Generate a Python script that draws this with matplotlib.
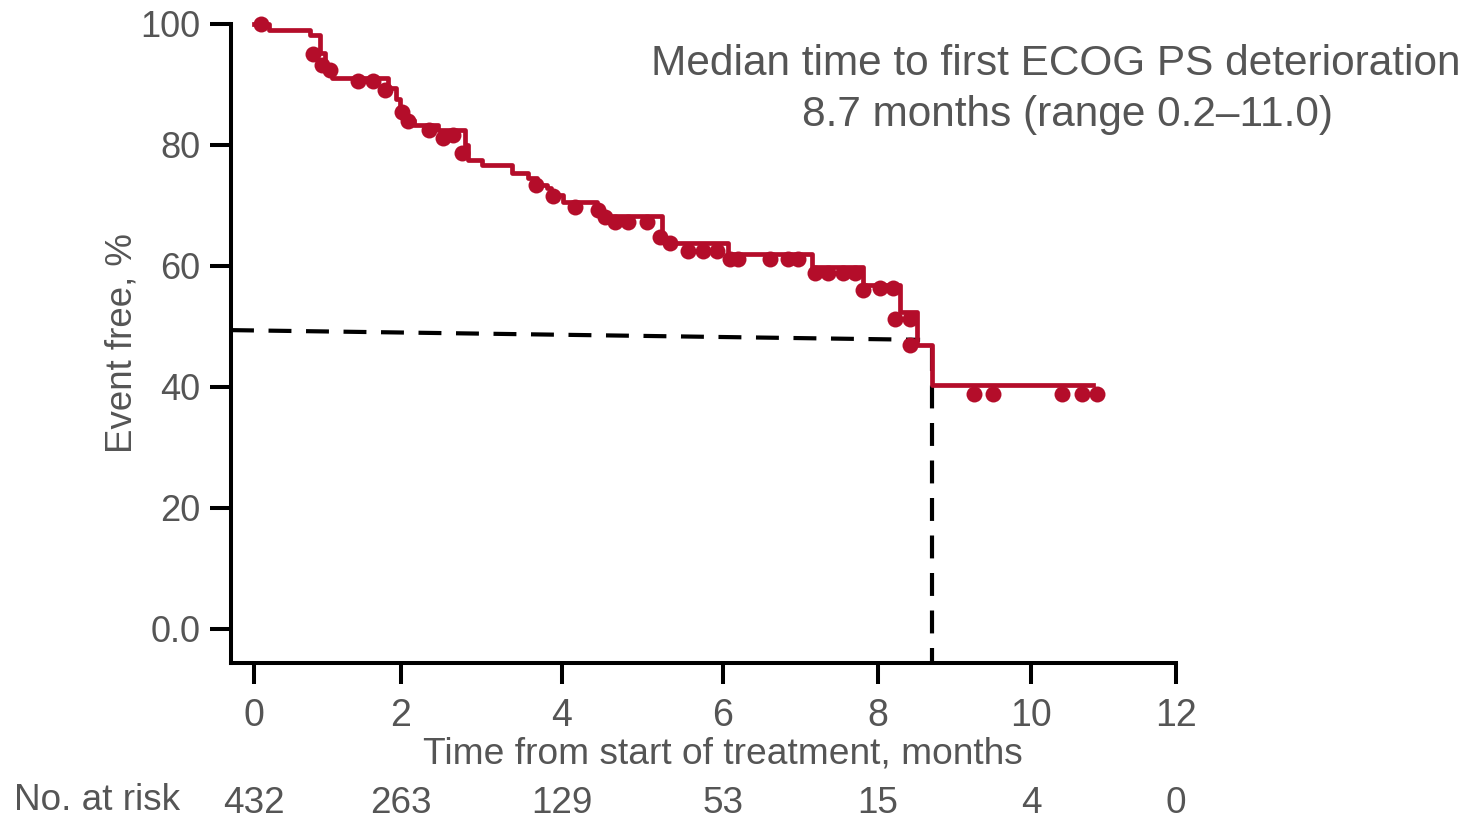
import numpy as np
import matplotlib.pyplot as plt
import matplotlib.transforms as mtransforms

plt.rcParams['font.family'] = ['Liberation Sans', 'DejaVu Sans']

# Kaplan-Meier step curve: (time in months, % event free after the step)
step_t = [0, 0.20, 0.76, 0.90, 0.97, 1.06, 1.82, 1.93, 1.99, 2.06, 2.16, 2.46,
          2.80, 2.83, 3.01, 3.38, 3.58, 3.69, 3.81, 3.86, 4.01, 4.44, 4.51,
          5.24, 5.32, 6.07, 7.15, 7.81, 8.29, 8.51, 8.70, 10.86]
step_s = [100, 99.0, 98.2, 95.2, 93.1, 91.1, 89.4, 87.6, 85.8, 84.1, 83.3, 82.5,
          80.0, 77.5, 76.7, 75.4, 74.5, 73.4, 72.9, 71.7, 70.6, 69.3, 68.3,
          64.3, 63.8, 62.0, 59.9, 56.9, 52.4, 46.9, 40.3, 40.3]

# censored observations
cens_t = [0.10, 0.80, 0.93, 1.03, 1.42, 1.62, 1.78, 2.01, 2.09, 2.35, 2.52,
          2.65, 2.76, 3.68, 3.89, 4.16, 4.45, 4.53, 4.66, 4.82, 5.05, 5.22,
          5.34, 5.57, 5.75, 5.92, 6.09, 6.19, 6.61, 6.84, 6.97, 7.19, 7.36,
          7.55, 7.70, 7.81, 8.03, 8.20, 8.22, 8.42, 8.42, 9.26, 9.50, 10.43,
          10.70, 10.91]
cens_s = [100.0, 95.0, 93.2, 92.4, 90.5, 90.5, 89.1, 85.5, 83.9, 82.5, 81.2,
          81.7, 78.7, 73.4, 71.5, 69.8, 69.3, 68.1, 67.3, 67.3, 67.3, 64.8,
          63.8, 62.4, 62.4, 62.4, 61.2, 61.2, 61.2, 61.2, 61.2, 58.8, 58.8,
          58.8, 58.8, 56.0, 56.3, 56.3, 51.2, 51.2, 46.9, 38.8, 38.8, 38.8,
          38.8, 38.8]

median_t = 8.7
median_guide_s = [49.4, 47.8]

risk_t = [0, 2, 4, 6, 8, 10, 12]
risk_n = [432, 263, 129, 53, 15, 4, 0]

yticks = [0, 20, 40, 60, 80, 100]
ytick_labels = ['0.0', '20', '40', '60', '80', '100']

red = '#B40D2A'
grey = '#555555'

# the time axis is piecewise linear: each 2-month interval has its own width
seg_ends = np.array([0, 2, 4, 6, 8, 10, 12], dtype=float)
seg_pos = np.array([0, 147, 308, 469, 624, 777, 922], dtype=float)


def t_fwd(t):
    t = np.asarray(t, dtype=float)
    out = np.interp(t, seg_ends, seg_pos)
    lo = seg_pos[1] / seg_ends[1]
    hi = (seg_pos[-1] - seg_pos[-2]) / (seg_ends[-1] - seg_ends[-2])
    out = np.where(t < 0, t * lo, out)
    out = np.where(t > 12, seg_pos[-1] + (t - 12) * hi, out)
    return out


def t_inv(p):
    p = np.asarray(p, dtype=float)
    out = np.interp(p, seg_pos, seg_ends)
    lo = seg_pos[1] / seg_ends[1]
    hi = (seg_pos[-1] - seg_pos[-2]) / (seg_ends[-1] - seg_ends[-2])
    out = np.where(p < 0, p / lo, out)
    out = np.where(p > seg_pos[-1], 12 + (p - seg_pos[-1]) / hi, out)
    return out


fig = plt.figure(figsize=(14.8, 8.19), dpi=100)
ax = fig.add_axes([0.1561, 0.1905, 0.6385, 0.7802])
ax.set_xscale('function', functions=(t_fwd, t_inv))

xmin, ymin = -0.313, -5.62
ax.set_xlim(xmin, 12)
ax.set_ylim(ymin, 100)

# median guide lines
ax.plot([xmin, 8.55], median_guide_s, color='black', lw=3.0,
        dashes=(5.5, 3.5), zorder=2, clip_on=False)
ax.plot([median_t, median_t], [46.5, ymin], color='black', lw=3.0,
        dashes=(5.5, 3.5), zorder=2, clip_on=False)

ax.step(step_t, step_s, where='post', color=red, lw=3.4, zorder=3,
        clip_on=False)
ax.plot(cens_t, cens_s, 'o', color=red, ms=11.5, mew=0, zorder=4,
        clip_on=False)

for side in ['top', 'right']:
    ax.spines[side].set_visible(False)
for side in ['left', 'bottom']:
    ax.spines[side].set_linewidth(2.9)

ax.set_yticks(yticks)
ax.set_yticklabels(ytick_labels)
ax.set_xticks(risk_t)
ax.set_xticklabels([str(t) for t in risk_t])
ax.minorticks_off()
ax.tick_params(axis='both', length=15, width=2.9, labelsize=26,
               labelcolor=grey, direction='out')
ax.tick_params(axis='x', pad=10, labelsize=27)
ax.tick_params(axis='y', pad=7)

ax.set_xlabel('Time from start of treatment, months', fontsize=26.7,
              color=grey)
ax.xaxis.set_label_coords(0.52, -0.115)
ax.set_ylabel('Event free, %', fontsize=26.4, color=grey)
ax.yaxis.set_label_coords(-0.097, 0.5)

# number at risk row
trans = mtransforms.blended_transform_factory(ax.transData, ax.transAxes)
for t, n in zip(risk_t, risk_n):
    ax.text(t, -0.22, str(n), transform=trans, ha='center', va='center',
            fontsize=26.6, color=grey)
fig.text(14 / 1480, 1 - 801 / 819, 'No. at risk', ha='left', va='center',
         fontsize=26.6, color=grey)

fig.text(1056 / 1480, 1 - 64 / 819,
         'Median time to first ECOG PS deterioration',
         ha='center', va='center', fontsize=30.5, color=grey)
fig.text(1067 / 1480, 1 - 115 / 819,
         '8.7 months (range 0.2\u201311.0)',
         ha='center', va='center', fontsize=30.5, color=grey)

fig.savefig('out.png', dpi=100)
